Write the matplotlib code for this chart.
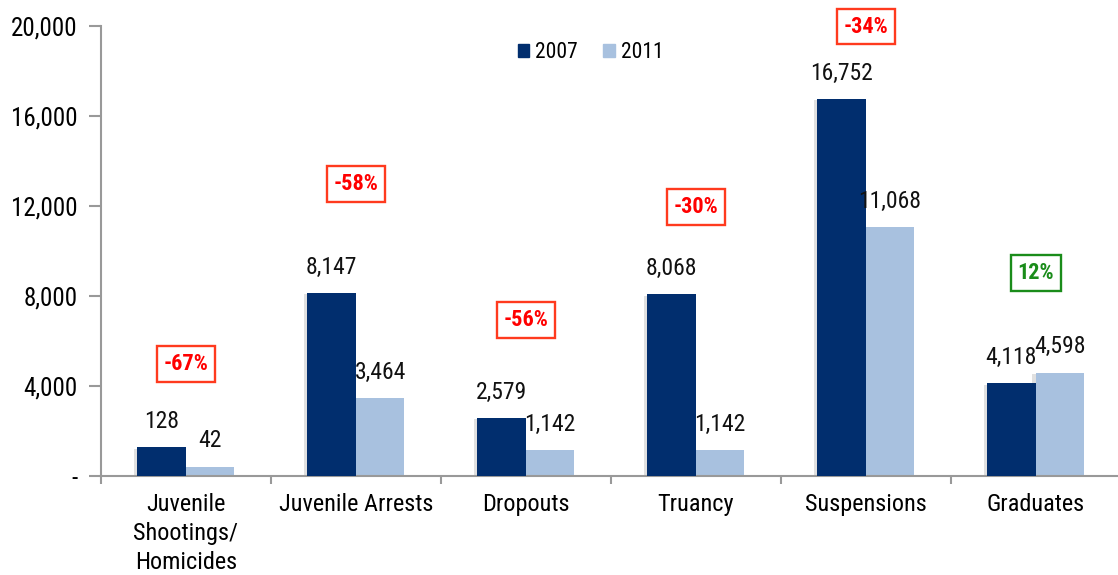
import matplotlib
matplotlib.use("Agg")
import matplotlib.pyplot as plt
import matplotlib.patheffects as pe
from matplotlib.patches import Patch
import numpy as np
from matplotlib.ticker import FuncFormatter

plt.rcParams['font.family'] = ['Roboto Condensed', 'Liberation Sans Narrow', 'Roboto', 'DejaVu Sans']

categories = ["Juvenile\nShootings/\nHomicides", "Juvenile Arrests", "Dropouts",
              "Truancy", "Suspensions", "Graduates"]
# bar heights as drawn in the chart (the shootings bars are drawn x10)
values_2007 = [1280, 8147, 2579, 8068, 16752, 4118]
values_2011 = [420, 3464, 1142, 1142, 11068, 4598]
labels_2007 = ["128", "8,147", "2,579", "8,068", "16,752", "4,118"]
labels_2011 = ["42", "3,464", "1,142", "1,142", "11,068", "4,598"]
changes = ["-67%", "-58%", "-56%", "-30%", "-34%", "12%"]
change_y = [4980, 12980, 6930, 11960, 19960, 9020]
yticks = [0, 4000, 8000, 12000, 16000, 20000]

c07 = "#012E6E"
c11 = "#A8C1DF"

fig = plt.figure(figsize=(11.18, 5.75), dpi=100)
ax = fig.add_axes([0.0903, 0.172, 0.912, 0.783])

x = np.arange(len(categories))
w = 0.285
shadow = [pe.SimplePatchShadow(offset=(-2.5, -1), shadow_rgbFace="#999999", alpha=0.3), pe.Normal()]
ax.bar(x - w / 2, values_2007, w, color=c07, path_effects=shadow, zorder=3)
ax.bar(x + w / 2, values_2011, w, color=c11, path_effects=shadow, zorder=2)

for xi, v, lab in zip(x - w / 2, values_2007, labels_2007):
    ax.annotate(lab, (xi, v), xytext=(0, 18.5), textcoords="offset points",
                ha="center", va="center", fontsize=17, color="#111111")
for xi, v, lab in zip(x + w / 2, values_2011, labels_2011):
    ax.annotate(lab, (xi, v), xytext=(0, 18.5), textcoords="offset points",
                ha="center", va="center", fontsize=17, color="#111111")

for xi, ch, yy in zip(x, changes, change_y):
    col = "#1A8C1A" if not ch.startswith("-") else "#FF0000"
    ecol = "#1A8C1A" if not ch.startswith("-") else "#FF3A1E"
    ax.text(xi, yy, ch, ha="center", va="center", fontsize=16, fontweight="bold", color=col,
            bbox=dict(boxstyle="square,pad=0.3", fc="white", ec=ecol, lw=1.7), zorder=5)

ax.set_xlim(-0.5, len(categories) - 0.5)
ax.set_ylim(0, 20000)
ax.set_yticks(yticks)
ax.yaxis.set_major_formatter(FuncFormatter(lambda v, p: "-" if v == 0 else f"{int(v):,}"))
ax.set_xticks(x)
ax.set_xticklabels(categories, fontsize=17.5, linespacing=1.35)
ax.set_xticks(np.arange(-0.5, len(categories), 1.0), minor=True)
ax.tick_params(axis="x", which="major", length=0, pad=12)
ax.tick_params(axis="x", which="minor", length=6, color="#999999", width=1.5)
ax.tick_params(axis="y", length=9, color="#999999", width=1.5, labelsize=18, pad=8)
for s in ["top", "right"]:
    ax.spines[s].set_visible(False)
for s in ["left", "bottom"]:
    ax.spines[s].set_color("#999999")
    ax.spines[s].set_linewidth(1.5)

handles = [Patch(color=c07, label="2007"), Patch(color=c11, label="2011")]
ax.legend(handles=handles, loc="upper center", bbox_to_anchor=(0.48, 1.008), ncol=2, frameon=False,
          fontsize=15.5, handlelength=0.55, handleheight=0.55, handletextpad=0.25,
          columnspacing=1.2)

fig.savefig("out.png", dpi=100)
